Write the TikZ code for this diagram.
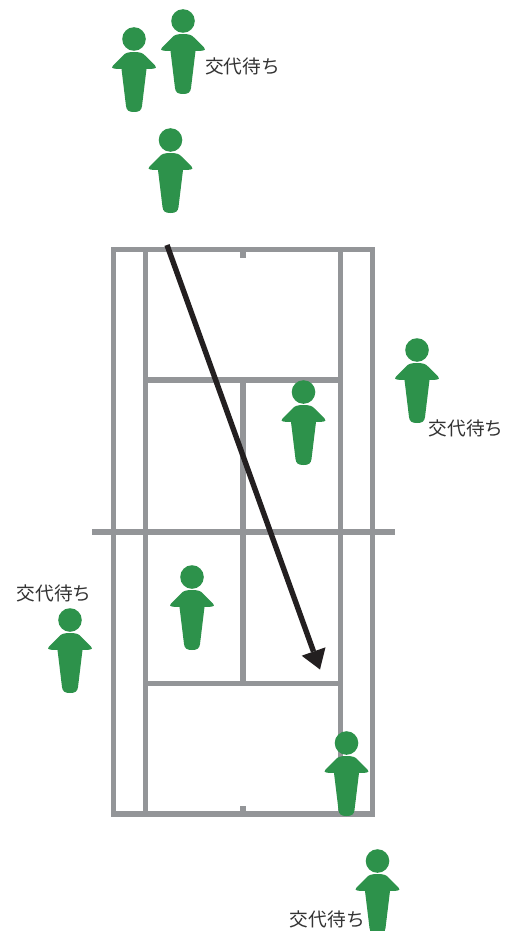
\documentclass[tikz,border=0pt]{standalone}
\usepackage{fontspec}
\newfontfamily\cjk{Noto Sans CJK JP}
\definecolor{playergreen}{HTML}{2D924B}
\definecolor{courtgray}{HTML}{939598}
\definecolor{arrowblack}{HTML}{231F20}
\definecolor{labelgray}{HTML}{333333}
\tikzset{
  x=1pt,y=-1pt,
  courtline/.style={draw=courtgray,line width=5.4pt,line cap=butt},
  waitlabel/.style={font=\cjk\fontsize{18.7}{18.7}\selectfont,text=labelgray,inner sep=0pt,anchor=center},
  shot/.style={draw=arrowblack,line width=5.4pt},
  player/.pic={
    \fill[playergreen] (0,0) circle[radius=11.8];
    \fill[playergreen] (0,13)
      .. controls (6,13) and (9,14) .. (11,16.5)
      -- (21,26.5) .. controls (23,28.5) and (22,29.5) .. (19.5,29.7)
      -- (12.5,30) -- (8,67)
      .. controls (7.5,71.5) and (5,73) .. (0,73)
      .. controls (-5,73) and (-7.5,71.5) .. (-8,67)
      -- (-12.5,30) -- (-19.5,29.7)
      .. controls (-22,29.5) and (-23,28.5) .. (-21,26.5)
      -- (-11,16.5) .. controls (-9,14) and (-6,13) .. (0,13) -- cycle;
  }
}
\begin{document}
\begin{tikzpicture}
\useasboundingbox (0,0) rectangle (516,931);
% court
\draw[courtline] (113.5,814) -- (113.5,249.5) -- (372.5,249.5) -- (372.5,814) -- cycle;
\draw[courtline] (145.5,249.5) -- (145.5,814);
\draw[courtline] (340.5,249.5) -- (340.5,814);
\draw[courtline] (145.5,380) -- (340.5,380);
\draw[courtline] (145.5,683.5) -- (340.5,683.5);
\draw[courtline] (243,380) -- (243,683.5);
\draw[courtline] (92,532) -- (394.5,532);
\draw[courtline] (243,249.5) -- (243,258);
\draw[courtline] (243,806) -- (243,814);
% shot
\coordinate (shotstart) at (167,245);
\coordinate (shotend) at (313.5,651.5);
\coordinate (tipa) at (320,669.5);
\coordinate (tipb) at (301.7,655.7);
\coordinate (tipc) at (325.5,647.3);
\draw[shot] (shotstart) -- (shotend);
\fill[arrowblack] (tipa) -- (tipb) -- (tipc) -- cycle;
% players
\path (134,39) pic {player};
\path (183,21) pic {player};
\path (170.5,140) pic {player};
\path (417,350) pic {player};
\path (303.5,392) pic {player};
\path (192,577) pic {player};
\path (70,620) pic {player};
\path (346.5,743) pic {player};
\path (377.5,861) pic {player};
% labels
\node[waitlabel] (w1) at (242.5,66.8) {交代待ち};
\node[waitlabel] (w2) at (466,428.8) {交代待ち};
\node[waitlabel] (w3) at (54,593.8) {交代待ち};
\node[waitlabel] (w4) at (327.3,919.8) {交代待ち};
\end{tikzpicture}
\end{document}
